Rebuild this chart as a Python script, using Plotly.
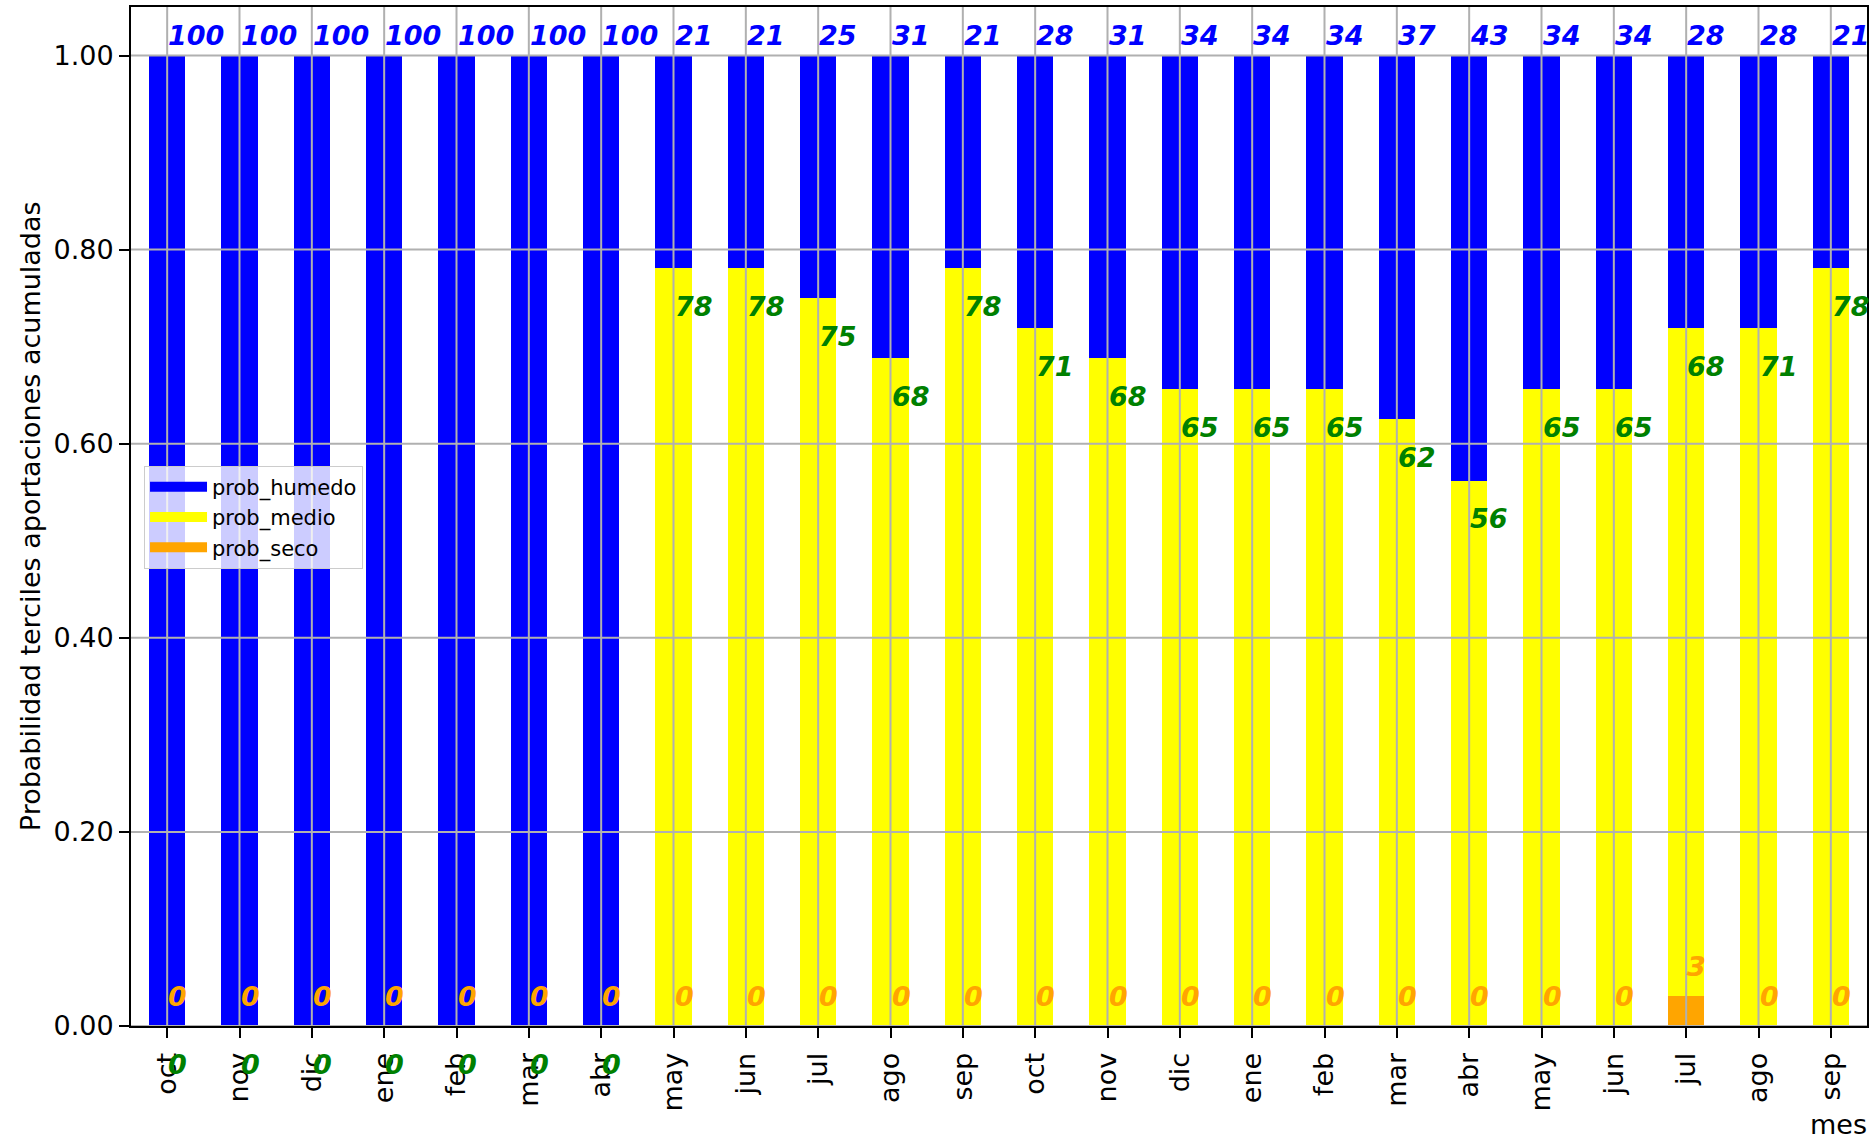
import plotly.graph_objects as go

months = ["oct", "nov", "dic", "ene", "feb", "mar", "abr", "may", "jun", "jul", "ago", "sep",
          "oct", "nov", "dic", "ene", "feb", "mar", "abr", "may", "jun", "jul", "ago", "sep"]
prob_seco = [0, 0, 0, 0, 0, 0, 0, 0, 0, 0, 0, 0,
             0, 0, 0, 0, 0, 0, 0, 0, 0, 0.031, 0, 0]
prob_medio = [0, 0, 0, 0, 0, 0, 0, 0.781, 0.781, 0.750, 0.688, 0.781,
              0.719, 0.688, 0.656, 0.656, 0.656, 0.625, 0.562, 0.656, 0.656, 0.688, 0.719, 0.781]
prob_humedo = [1, 1, 1, 1, 1, 1, 1, 0.219, 0.219, 0.250, 0.312, 0.219,
               0.281, 0.312, 0.344, 0.344, 0.344, 0.375, 0.438, 0.344, 0.344, 0.281, 0.281, 0.219]
y_ticks = [0.0, 0.2, 0.4, 0.6, 0.8, 1.0]

FONT = "DejaVu Sans"
BLUE = "#0000ff"
YELLOW = "#ffff00"
ORANGE = "#ffa500"
GREEN = "#008000"
GRID = "#b0b0b0"

xs = list(range(len(months)))

fig = go.Figure()
fig.add_trace(go.Bar(x=xs, y=prob_seco, name="prob_seco", marker_color=ORANGE,
                     marker_line_width=0, width=0.5, showlegend=False))
fig.add_trace(go.Bar(x=xs, y=prob_medio, name="prob_medio", marker_color=YELLOW,
                     marker_line_width=0, width=0.5, showlegend=False))
fig.add_trace(go.Bar(x=xs, y=prob_humedo, name="prob_humedo", marker_color=BLUE,
                     marker_line_width=0, width=0.5, showlegend=False))

# legend proxies (wide rectangles like matplotlib patches)
for name, col in [("prob_humedo", BLUE), ("prob_medio", YELLOW), ("prob_seco", ORANGE)]:
    fig.add_trace(go.Scatter(x=[None], y=[None], mode="lines", name=name,
                             line=dict(color=col, width=13), showlegend=True))

lab_font = dict(family=FONT, size=27, weight="bold", style="italic")
BASE_SHIFT = -7

annotations = []
for i in xs:
    # humedo label above the bar
    annotations.append(dict(
        x=i, y=1.01, xref="x", yref="y", text=str(int(prob_humedo[i] * 100)),
        xanchor="left", yanchor="bottom", showarrow=False, yshift=BASE_SHIFT, xshift=-1,
        font=dict(color=BLUE, **lab_font)))
    # seco label
    annotations.append(dict(
        x=i, y=prob_seco[i] + 0.02, xref="x", yref="y", text=str(int(prob_seco[i] * 100)),
        xanchor="left", yanchor="bottom", showarrow=False, yshift=BASE_SHIFT, xshift=-1,
        font=dict(color=ORANGE, **lab_font)))
    # medio label, placed just under the top of the medio segment (can fall below the axis)
    top = prob_seco[i] + prob_medio[i]
    annotations.append(dict(
        x=i, y=top, xref="x", yref="y",
        ax=i, ay=top - 0.05, axref="x", ayref="y",
        showarrow=True, arrowcolor="rgba(0,0,0,0)", arrowwidth=0.1, arrowhead=0,
        text=str(int(prob_medio[i] * 100)),
        xanchor="left", yanchor="bottom", yshift=BASE_SHIFT, xshift=-1,
        font=dict(color=GREEN, **lab_font)))

annotations += [
    dict(text="Probabilidad terciles aportaciones acumuladas", xref="paper", yref="paper",
         x=-0.0578, y=0.5, xanchor="center", yanchor="middle", textangle=-90,
         showarrow=False, font=dict(family=FONT, size=27, color="black")),
    dict(text="mes", xref="paper", yref="paper", x=1.001, y=-0.097,
         xanchor="right", yanchor="middle", showarrow=False,
         font=dict(family=FONT, size=27, color="black")),
]

shapes = []
for x in xs:
    shapes.append(dict(type="line", xref="x", yref="paper", x0=x, x1=x, y0=0, y1=1,
                       line=dict(color=GRID, width=2), layer="above"))
for yv in y_ticks:
    shapes.append(dict(type="line", xref="paper", yref="y", x0=0, x1=1, y0=yv, y1=yv,
                       line=dict(color=GRID, width=2), layer="above"))

fig.update_layout(
    width=1871, height=1140,
    margin=dict(l=131, r=2, t=7, b=114),
    barmode="stack",
    plot_bgcolor="white", paper_bgcolor="white",
    font=dict(family=FONT, size=27, color="black"),
    shapes=shapes,
    annotations=annotations,
    showlegend=True,
    legend=dict(
        x=0.0075, y=0.55, xanchor="left", yanchor="top",
        traceorder="normal",
        bgcolor="rgba(255,255,255,0.8)", bordercolor="#cccccc", borderwidth=1,
        font=dict(family=FONT, size=21, color="black"),
        itemwidth=57, tracegroupgap=0,
    ),
    xaxis=dict(
        range=[-0.5, len(months) - 0.5],
        tickmode="array", tickvals=xs, ticktext=months, tickangle=-90,
        ticks="outside", ticklen=10, tickwidth=2, tickcolor="black",
        ticklabelstandoff=4,
        showgrid=False, zeroline=False,
        showline=True, linecolor="black", linewidth=2, mirror=True,
        tickfont=dict(family=FONT, size=27, color="black"),
    ),
    yaxis=dict(
        range=[0, 1.05],
        tickmode="array", tickvals=y_ticks, tickformat=".2f",
        ticks="outside", ticklen=10, tickwidth=2, tickcolor="black",
        showgrid=False, zeroline=False,
        showline=True, linecolor="black", linewidth=2, mirror=True,
        tickfont=dict(family=FONT, size=27, color="black"),
    ),
)

fig.write_html("out.html", config={"displayModeBar": False},
               post_script="document.body.style.margin='0';")
